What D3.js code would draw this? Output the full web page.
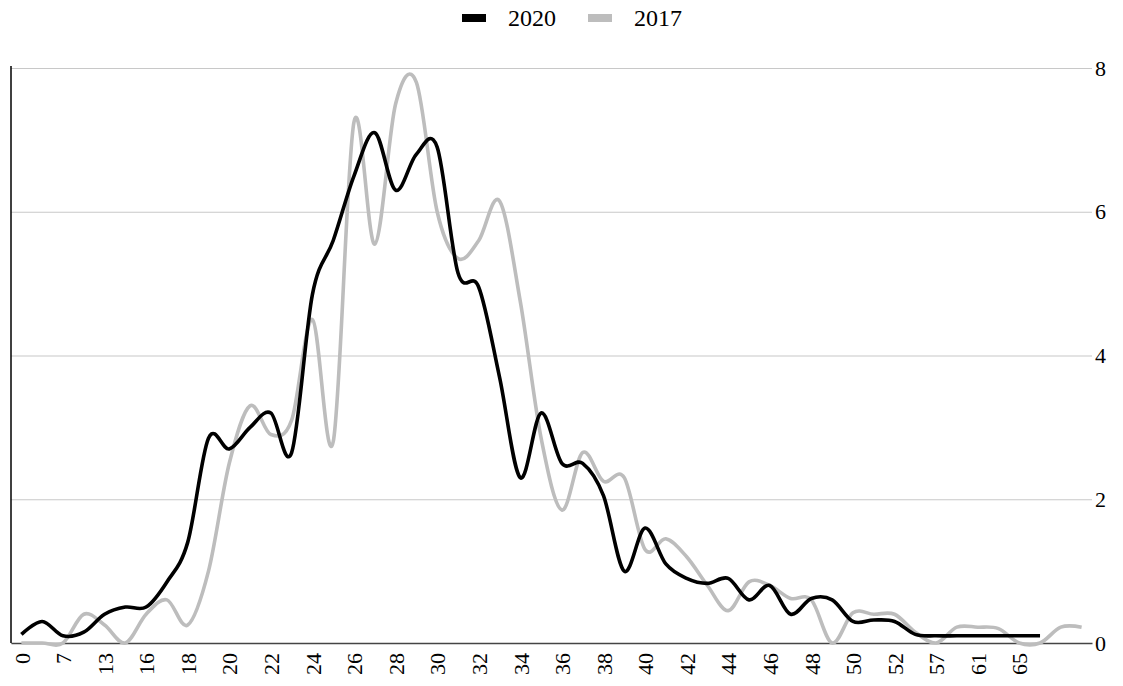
<!DOCTYPE html>
<html>
<head>
<meta charset="utf-8">
<script src="https://cdn.jsdelivr.net/npm/d3@7"></script>
<style>
  body { margin: 0; background: #fff; }
  text { font-family: "Liberation Serif", "Times New Roman", serif; }
</style>
</head>
<body>
<div id="chart"></div>
<script>
  // age categories on the x axis (every second one is labelled)
  const ages = ["0", "5", "7", "10", "13", "14", "16", "17", "18", "19", "20", "21", "22", "23",
    "24", "25", "26", "27", "28", "29", "30", "31", "32", "33", "34", "35", "36", "37", "38",
    "39", "40", "41", "42", "43", "44", "45", "46", "47", "48", "49", "50", "51", "52", "53",
    "57", "59", "61", "63", "65", "67", "70", "72"];

  // series values
  const values2020 = [0.12, 0.3, 0.1, 0.15, 0.4, 0.5, 0.5, 0.85, 1.4, 2.85, 2.7, 3.0, 3.2, 2.65,
    4.85, 5.6, 6.5, 7.1, 6.3, 6.8, 6.9, 5.15, 4.95, 3.7, 2.3, 3.2, 2.5, 2.5, 2.05, 1.0, 1.6, 1.1,
    0.9, 0.83, 0.9, 0.6, 0.8, 0.4, 0.62, 0.6, 0.3, 0.32, 0.3, 0.12, 0.1, 0.1, 0.1, 0.1, 0.1, 0.1];

  const values2017 = [0, 0, 0, 0.4, 0.25, 0, 0.4, 0.6, 0.25, 1.0, 2.5, 3.3, 2.9, 3.1, 4.5, 2.8,
    7.25, 5.55, 7.5, 7.8, 6.0, 5.35, 5.6, 6.15, 4.75, 2.85, 1.85, 2.65, 2.25, 2.3, 1.3, 1.45,
    1.2, 0.8, 0.45, 0.85, 0.8, 0.62, 0.6, 0, 0.42, 0.4, 0.4, 0.15, 0, 0.22, 0.22, 0.2, 0, 0,
    0.22, 0.22];

  const yTicks = [0, 2, 4, 6, 8];

  const series = [
    { name: "2020", values: values2020, color: "#000000" },
    { name: "2017", values: values2017, color: "#bdbdbd" }
  ];

  const width = 1123, height = 686;
  const margin = { top: 68, right: 31, bottom: 43, left: 11 };
  const innerW = width - margin.left - margin.right;
  const innerH = height - margin.top - margin.bottom;

  const svg = d3.select("#chart").append("svg")
    .attr("width", width)
    .attr("height", height);

  const g = svg.append("g")
    .attr("transform", `translate(${margin.left},${margin.top})`);

  const x = d3.scalePoint()
    .domain(ages)
    .range([0, innerW])
    .padding(0.5);

  const y = d3.scaleLinear()
    .domain([0, 8])
    .range([innerH, 0]);

  // gridlines + right hand labels
  const yAxis = g.append("g")
    .attr("transform", `translate(${innerW},0)`)
    .call(d3.axisRight(y).tickValues(yTicks).tickSize(-innerW).tickPadding(3));
  yAxis.select(".domain").remove();
  yAxis.selectAll(".tick line").attr("stroke", "#c8c8c8").attr("stroke-width", 1.2);
  yAxis.selectAll(".tick text")
    .attr("fill", "#000")
    .attr("font-size", 22)
    .attr("font-family", "Liberation Serif, serif");

  // x axis, labels rotated, every second category
  const xAxis = g.append("g")
    .attr("transform", `translate(0,${innerH})`)
    .call(d3.axisBottom(x)
      .tickValues(ages.filter((d, i) => i % 2 === 0 && i <= 48))
      .tickSize(0));
  xAxis.select(".domain").attr("stroke", "#444").attr("stroke-width", 1.5);
  xAxis.selectAll(".tick text")
    .attr("fill", "#000")
    .attr("font-size", 22)
    .attr("font-family", "Liberation Serif, serif")
    .attr("text-anchor", "end")
    .attr("transform", "rotate(-90)")
    .attr("x", -10)
    .attr("y", 0)
    .attr("dy", "0.35em");

  // left axis line
  g.append("line")
    .attr("x1", 0).attr("x2", 0)
    .attr("y1", -2).attr("y2", innerH)
    .attr("stroke", "#000")
    .attr("stroke-width", 1.5);

  const line = d3.line()
    .x((d, i) => x(ages[i]))
    .y(d => y(d))
    .curve(d3.curveCardinal.tension(0));

  // draw 2017 first so 2020 sits on top where they cross
  g.selectAll(".series")
    .data(series.slice().reverse())
    .enter()
    .append("path")
    .attr("class", "series")
    .attr("fill", "none")
    .attr("stroke", d => d.color)
    .attr("stroke-width", 3.6)
    .attr("stroke-linejoin", "round")
    .attr("d", d => line(d.values));

  // legend
  const legend = svg.append("g").attr("transform", "translate(462,0)");
  const item = legend.selectAll(".item")
    .data(series)
    .enter()
    .append("g")
    .attr("transform", (d, i) => `translate(${i * 126},0)`);
  item.append("rect")
    .attr("x", 0).attr("y", 14)
    .attr("width", 24).attr("height", 8)
    .attr("fill", d => d.color);
  item.append("text")
    .attr("x", 46).attr("y", 26)
    .attr("font-size", 24)
    .attr("fill", "#000")
    .text(d => d.name);
</script>
</body>
</html>
